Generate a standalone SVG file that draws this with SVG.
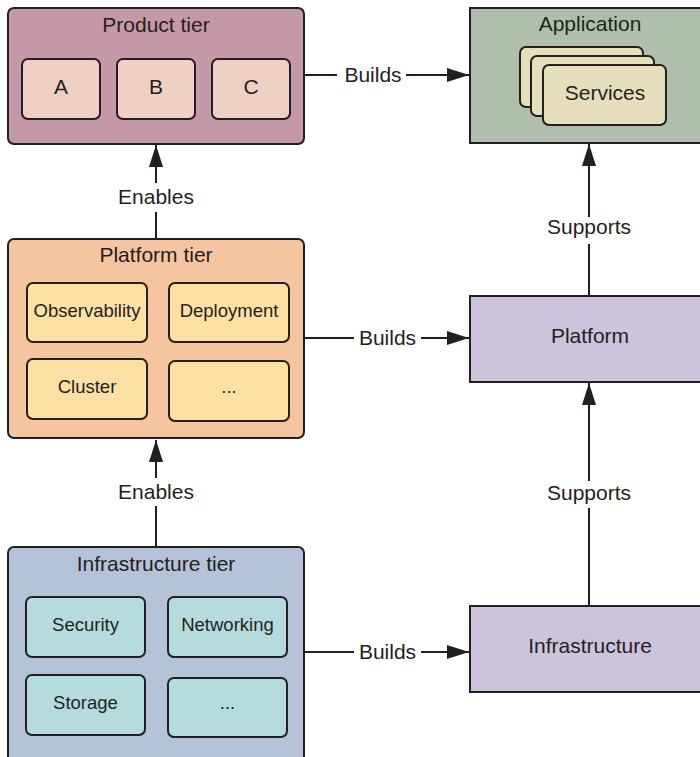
<svg xmlns="http://www.w3.org/2000/svg" width="700" height="757" viewBox="0 0 700 757">
<defs>
<style>
text{font-family:"Liberation Sans",Arial,Helvetica,sans-serif;fill:#231f20;text-anchor:middle}
.t{font-size:21px}
.s{font-size:18.5px}
.box{stroke:#231f20;stroke-width:2}
.tile{stroke:#231f20;stroke-width:2}
.ln{stroke:#231f20;stroke-width:2;fill:none}
</style>
<marker id="ah" viewBox="0 0 22 14" refX="22" refY="7" markerWidth="22" markerHeight="14" markerUnits="userSpaceOnUse" orient="auto">
<path d="M0,0 L22,7 L0,14 Z" fill="#231f20"/>
</marker>
</defs>
<rect width="700" height="757" fill="#fff"/>

<g id="product-tier">
<rect class="box" x="8" y="8" width="296" height="136" rx="6" fill="#c498a7"/>
<text class="t" x="156" y="32">Product tier</text>
<rect class="tile" x="22" y="59" width="78" height="60" rx="6" fill="#efd0c5"/>
<text class="t" x="61" y="94">A</text>
<rect class="tile" x="117" y="59" width="78" height="60" rx="6" fill="#efd0c5"/>
<text class="t" x="156" y="94">B</text>
<rect class="tile" x="212" y="59" width="78" height="60" rx="6" fill="#efd0c5"/>
<text class="t" x="251" y="94">C</text>
</g>

<g id="application">
<rect class="box" x="470" y="8" width="234" height="135" fill="#b0bfad"/>
<text class="t" x="590" y="31">Application</text>
<rect class="tile" x="520" y="47" width="123" height="60" rx="6" fill="#e6dfbc"/>
<rect class="tile" x="531" y="56" width="123" height="60" rx="6" fill="#e6dfbc"/>
<rect class="tile" x="543" y="65" width="123" height="60" rx="6" fill="#e6dfbc"/>
<text class="t" x="605" y="100">Services</text>
</g>

<g id="platform-tier">
<rect class="box" x="8" y="239" width="296" height="199" rx="6" fill="#f5c59f"/>
<text class="t" x="156" y="262">Platform tier</text>
<rect class="tile" x="27" y="283" width="120" height="59" rx="6" fill="#fde0a4"/>
<text class="s" x="87" y="317">Observability</text>
<rect class="tile" x="169" y="283" width="120" height="59" rx="6" fill="#fde0a4"/>
<text class="s" x="229" y="317">Deployment</text>
<rect class="tile" x="27" y="359" width="120" height="60" rx="6" fill="#fde0a4"/>
<text class="s" x="87" y="393">Cluster</text>
<rect class="tile" x="169" y="361" width="120" height="60" rx="6" fill="#fde0a4"/>
<text class="s" x="229" y="393">...</text>
</g>

<g id="platform">
<rect class="box" x="470" y="296" width="234" height="86" fill="#cdc4dc"/>
<text class="t" x="590" y="343">Platform</text>
</g>

<g id="infrastructure-tier">
<rect class="box" x="8" y="547" width="296" height="216" rx="6" fill="#b4c3d8"/>
<text class="t" x="156" y="571">Infrastructure tier</text>
<rect class="tile" x="26" y="597" width="119" height="60" rx="6" fill="#b5dcdc"/>
<text class="s" x="85.5" y="631">Security</text>
<rect class="tile" x="168" y="597" width="119" height="60" rx="6" fill="#b5dcdc"/>
<text class="s" x="227.5" y="631">Networking</text>
<rect class="tile" x="26" y="675" width="119" height="60" rx="6" fill="#b5dcdc"/>
<text class="s" x="85.5" y="709">Storage</text>
<rect class="tile" x="168" y="678" width="119" height="59" rx="6" fill="#b5dcdc"/>
<text class="s" x="227.5" y="709">...</text>
</g>

<g id="infrastructure">
<rect class="box" x="470" y="606" width="234" height="86" fill="#cdc4dc"/>
<text class="t" x="590" y="653">Infrastructure</text>
</g>

<g id="connectors">
<line class="ln" x1="305" y1="75" x2="337" y2="75"/>
<line class="ln" x1="406" y1="75" x2="469" y2="75" marker-end="url(#ah)"/>
<text class="t" x="373" y="82">Builds</text>

<line class="ln" x1="305" y1="338" x2="354" y2="338"/>
<line class="ln" x1="421" y1="338" x2="469" y2="338" marker-end="url(#ah)"/>
<text class="t" x="387.5" y="345">Builds</text>

<line class="ln" x1="305" y1="652" x2="354" y2="652"/>
<line class="ln" x1="421" y1="652" x2="469" y2="652" marker-end="url(#ah)"/>
<text class="t" x="387.5" y="659">Builds</text>

<line class="ln" x1="156" y1="238" x2="156" y2="212"/>
<line class="ln" x1="156" y1="183" x2="156" y2="145" marker-end="url(#ah)"/>
<text class="t" x="156" y="204">Enables</text>

<line class="ln" x1="156" y1="546" x2="156" y2="506"/>
<line class="ln" x1="156" y1="478" x2="156" y2="440" marker-end="url(#ah)"/>
<text class="t" x="156" y="499">Enables</text>

<line class="ln" x1="589" y1="295" x2="589" y2="244"/>
<line class="ln" x1="589" y1="217" x2="589" y2="144" marker-end="url(#ah)"/>
<text class="t" x="589" y="234">Supports</text>

<line class="ln" x1="589" y1="605" x2="589" y2="508"/>
<line class="ln" x1="589" y1="481" x2="589" y2="383" marker-end="url(#ah)"/>
<text class="t" x="589" y="500">Supports</text>
</g>
</svg>
